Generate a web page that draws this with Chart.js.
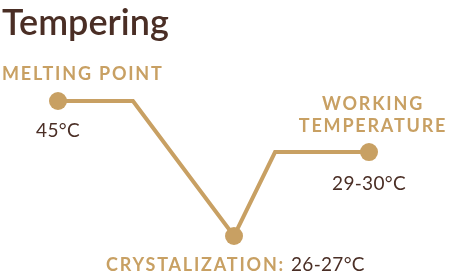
<!DOCTYPE html>
<html>
<head>
<meta charset="utf-8">
<script src="https://cdn.jsdelivr.net/npm/chart.js@4"></script>
<style>
  html, body { margin: 0; padding: 0; background: #fff; }
  #wrap { width: 449px; height: 276px; position: relative; }
</style>
</head>
<body>
<div id="wrap"><canvas id="chart"></canvas></div>
<script>
const title = 'Tempering';
// path of the tempering curve (relative position, relative level)
const xPos = [0, 2.41, 5.66, 6.98, 10];
const level = [10, 10, 0, 6.22, 6.22];
const isStage = [true, false, true, false, true];
const stageNames = ['MELTING POINT', 'CRYSTALIZATION:', 'WORKING TEMPERATURE'];
const stageTemps = ['45°C', '26-27°C', '29-30°C'];

const GOLD = '#c8a063';
const BROWN = '#4a2e25';

const labelsPlugin = {
  id: 'stageLabels',
  afterDatasetsDraw(chart) {
    const ctx = chart.ctx;
    const pts = chart.getDatasetMeta(0).data.filter((p, i) => isStage[i]);
    ctx.save();
    ctx.textBaseline = 'alphabetic';

    // title
    ctx.fillStyle = BROWN;
    ctx.font = '600 36px Lato';
    ctx.letterSpacing = '0px';
    ctx.textAlign = 'left';
    ctx.fillText(title, 2, 35);

    const gold = () => { ctx.fillStyle = GOLD; ctx.font = 'bold 18px Lato'; ctx.letterSpacing = '1.8px'; };
    const temp = () => { ctx.fillStyle = BROWN; ctx.font = '19px Lato'; ctx.letterSpacing = '0.3px'; };

    // melting point
    let p = pts[0];
    gold(); ctx.textAlign = 'left';
    ctx.fillText(stageNames[0], p.x - 56, p.y - 21);
    temp(); ctx.textAlign = 'center';
    ctx.fillText(stageTemps[0], p.x, p.y + 36);

    // crystalization
    p = pts[1];
    gold(); ctx.textAlign = 'right';
    ctx.fillText(stageNames[1], p.x + 51, p.y + 35);
    temp(); ctx.textAlign = 'left';
    ctx.fillText(stageTemps[1], p.x + 57, p.y + 35);

    // working temperature
    p = pts[2];
    const words = stageNames[2].split(' ');
    gold(); ctx.textAlign = 'center';
    ctx.fillText(words[0], p.x + 4, p.y - 42);
    ctx.fillText(words[1], p.x + 4, p.y - 20);
    temp();
    ctx.fillText(stageTemps[2], p.x, p.y + 38);
    ctx.restore();
  }
};

new Chart(document.getElementById('chart'), {
  type: 'line',
  data: {
    datasets: [{
      data: xPos.map((x, i) => ({ x: x, y: level[i] })),
      borderColor: GOLD,
      borderWidth: 4,
      borderJoinStyle: 'miter',
      pointRadius: isStage.map(s => s ? 9 : 0),
      pointBackgroundColor: GOLD,
      pointBorderWidth: 0,
      pointHoverRadius: isStage.map(s => s ? 9 : 0),
      tension: 0,
      clip: false
    }]
  },
  options: {
    responsive: true,
    maintainAspectRatio: false,
    animation: false,
    events: [],
    layout: { padding: { left: 58, right: 80, top: 101, bottom: 40 } },
    scales: {
      x: { type: 'linear', min: 0, max: 10, display: false },
      y: { min: 0, max: 10, display: false }
    },
    plugins: { legend: { display: false }, tooltip: { enabled: false } }
  },
  plugins: [labelsPlugin]
});
</script>
</body>
</html>
